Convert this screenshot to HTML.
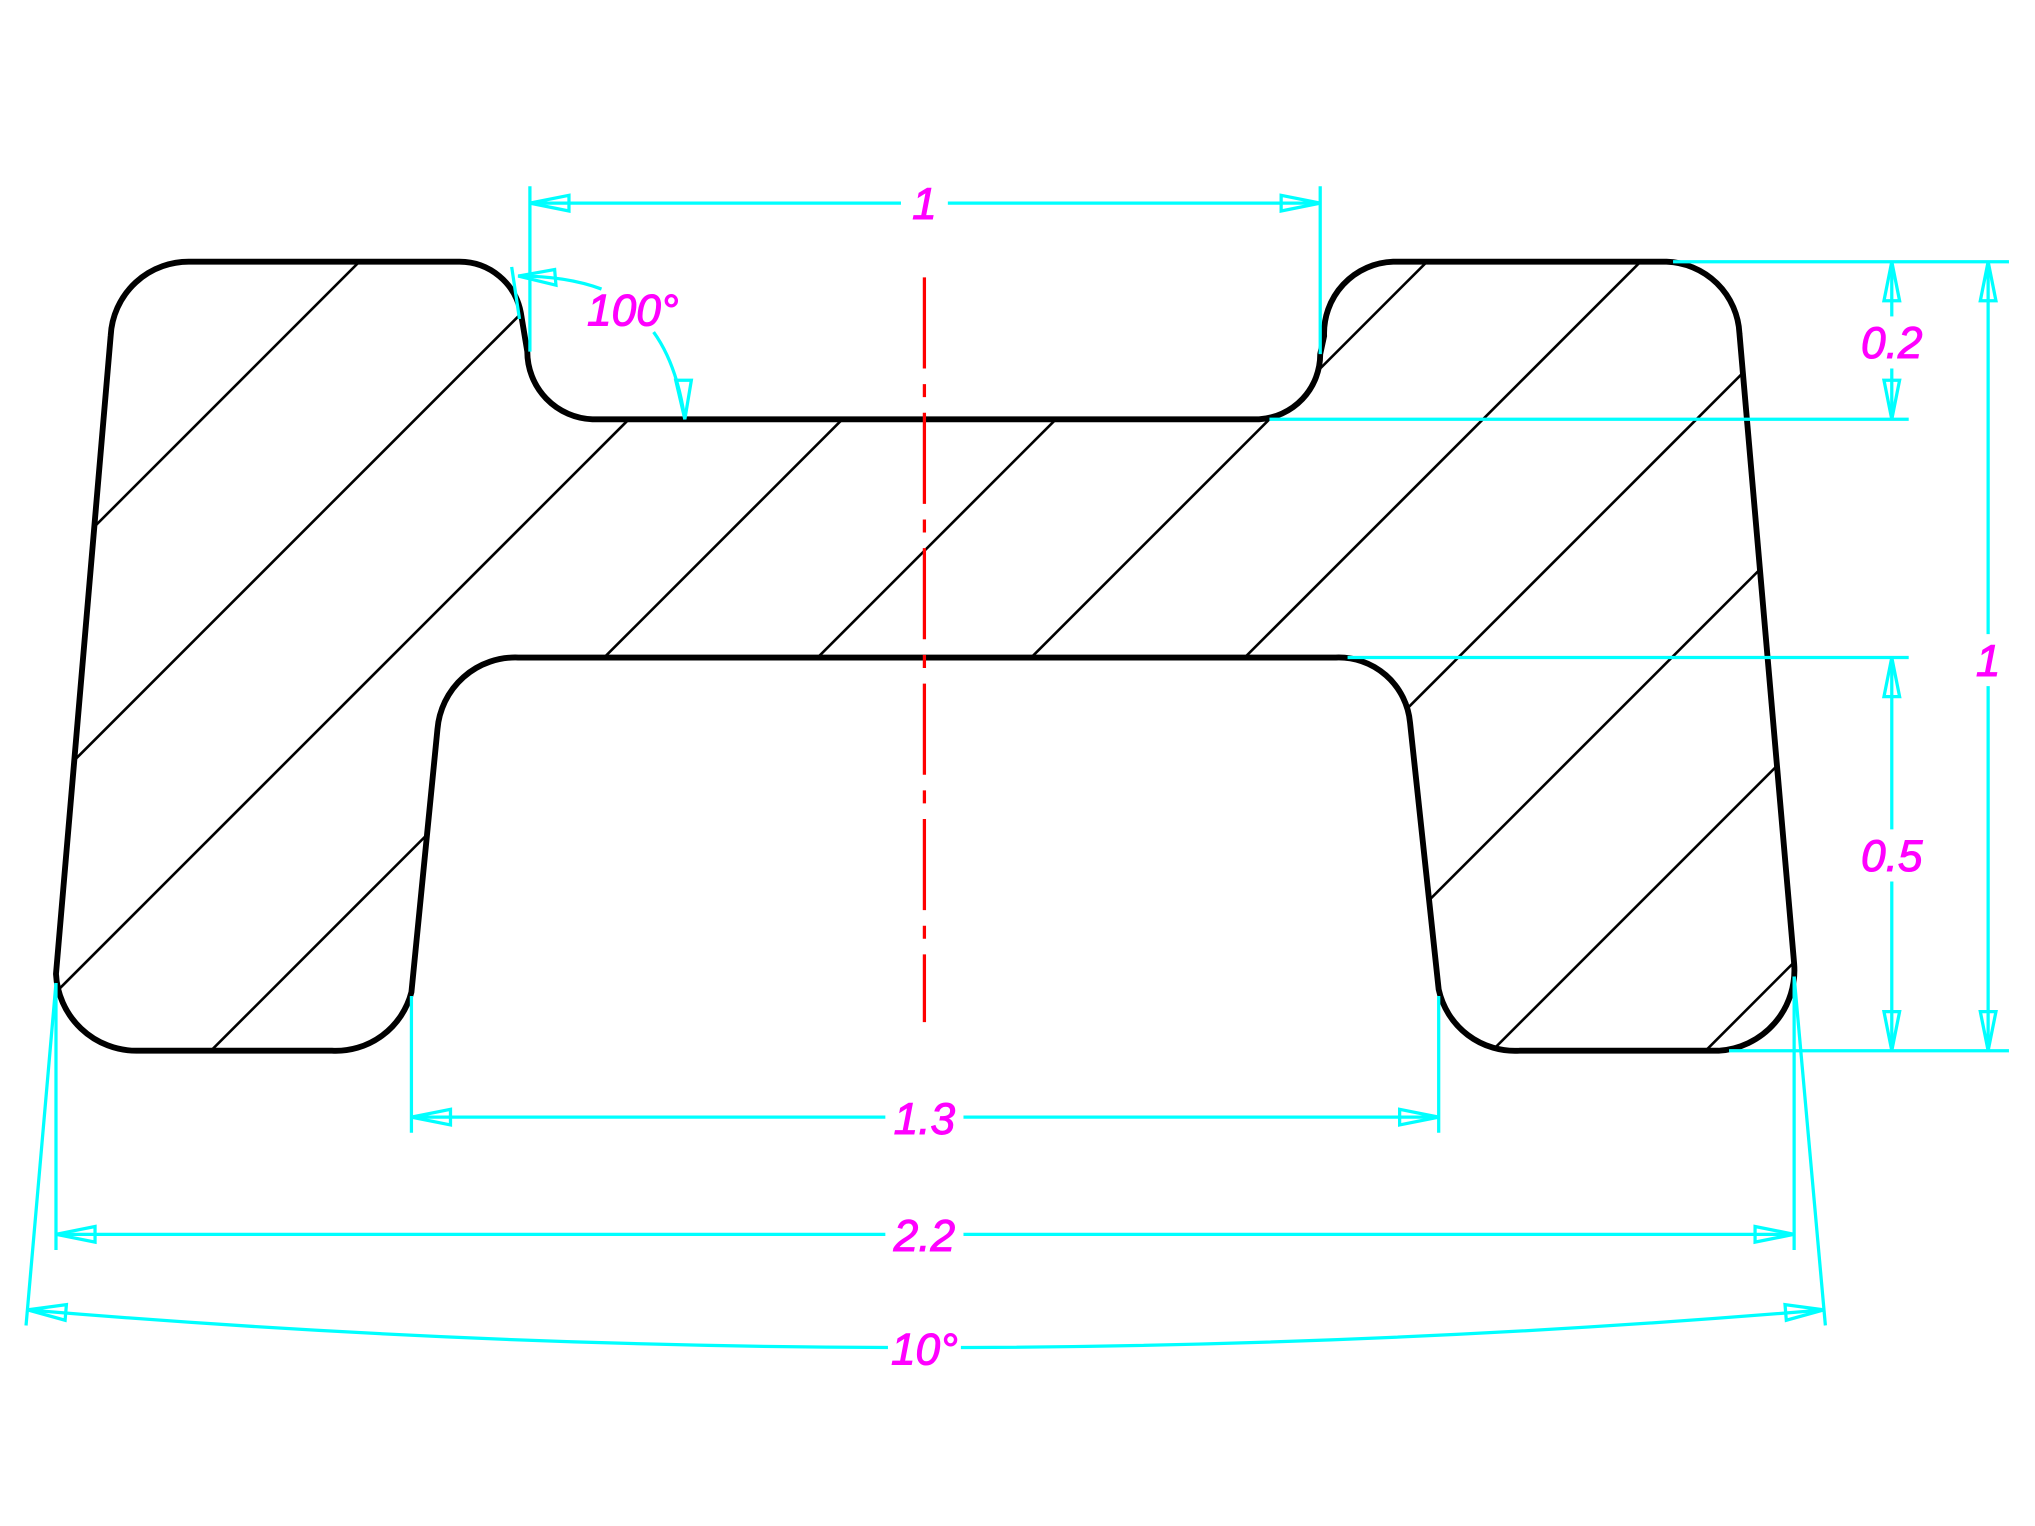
<!DOCTYPE html>
<html><head><meta charset="utf-8"><style>html,body{margin:0;padding:0;background:#fff}svg{display:block}</style></head>
<body>
<svg width="2035" height="1526" viewBox="0 0 1563 1172" xmlns="http://www.w3.org/2000/svg">
<defs>
<clipPath id="c"><path id="shape" d="M147 201 L353 201 A48 48 0 0 1 400 240 L405 270 A52 52 0 0 0 455 322 L967 322 A50 50 0 0 0 1014 272 L1017 258 A55 55 0 0 1 1070 201 L1280 201 A58 58 0 0 1 1336 256 L1378 740 A62 62 0 0 1 1320 807 L1167 807 A60 60 0 0 1 1105 760 L1083 555 A55 55 0 0 0 1026 505 L398 505 A60 60 0 0 0 336 560 L316 762 A60 60 0 0 1 255 807 L105 807 A62 62 0 0 1 43 748 L85 258 A60 60 0 0 1 147 201 Z"/></clipPath>
</defs>
<g clip-path="url(#c)" stroke="#000" stroke-width="2">
<line x1="0" y1="313" x2="313" y2="0"/>
<line x1="0" y1="477" x2="477" y2="0"/>
<line x1="0" y1="641" x2="641" y2="0"/>
<line x1="0" y1="805" x2="805" y2="0"/>
<line x1="0" y1="969" x2="969" y2="0"/>
<line x1="0" y1="1133" x2="1133" y2="0"/>
<line x1="97" y1="1200" x2="1297" y2="0"/>
<line x1="261" y1="1200" x2="1461" y2="0"/>
<line x1="425" y1="1200" x2="1625" y2="0"/>
<line x1="589" y1="1200" x2="1789" y2="0"/>
<line x1="753" y1="1200" x2="1953" y2="0"/>
<line x1="917" y1="1200" x2="2117" y2="0"/>
<line x1="1081" y1="1200" x2="2281" y2="0"/>
<line x1="1245" y1="1200" x2="2445" y2="0"/>
</g>
<use href="#shape" fill="none" stroke="#000" stroke-width="4.5"/>
<line x1="710" y1="213" x2="710" y2="785" stroke="#f00" stroke-width="2.5" stroke-dasharray="70 12 10 12"/>
<g stroke="#0ff" stroke-width="2.5" fill="none">
<line x1="407" y1="143" x2="407" y2="270"/><line x1="1014" y1="143" x2="1014" y2="272"/>
<line x1="407" y1="156" x2="1014" y2="156"/>
<polygon points="407,156 437,150 437,162"/><polygon points="1014,156 984,150 984,162"/>
<line x1="393" y1="205" x2="399" y2="245"/>
<path d="M398 212 Q435 212 462 222"/>
<polygon points="398,212 426,207 427,219"/>
<path d="M502 255 Q520 280 526 322"/>
<polygon points="526,322 519,292 531,292"/>
<line x1="1285" y1="201" x2="1543" y2="201"/>
<line x1="975" y1="322" x2="1466" y2="322"/>
<line x1="1035" y1="505" x2="1466" y2="505"/>
<line x1="1328" y1="807" x2="1543" y2="807"/>
<line x1="1453" y1="201" x2="1453" y2="243"/><line x1="1453" y1="283" x2="1453" y2="322"/>
<polygon points="1453,201 1447,231 1459,231"/><polygon points="1453,322 1447,292 1459,292"/>
<line x1="1453" y1="505" x2="1453" y2="637"/><line x1="1453" y1="677" x2="1453" y2="807"/>
<polygon points="1453,505 1447,535 1459,535"/><polygon points="1453,807 1447,777 1459,777"/>
<line x1="1527" y1="201" x2="1527" y2="487"/><line x1="1527" y1="527" x2="1527" y2="807"/>
<polygon points="1527,201 1521,231 1533,231"/><polygon points="1527,807 1521,777 1533,777"/>
<line x1="316" y1="765" x2="316" y2="870"/><line x1="1105" y1="765" x2="1105" y2="870"/>
<line x1="316" y1="858" x2="1105" y2="858"/>
<polygon points="316,858 346,852 346,864"/><polygon points="1105,858 1075,852 1075,864"/>
<line x1="43" y1="755" x2="43" y2="960"/><line x1="1378" y1="750" x2="1378" y2="960"/>
<line x1="43" y1="948" x2="1378" y2="948"/>
<polygon points="43,948 73,942 73,954"/><polygon points="1378,948 1348,942 1348,954"/>
<line x1="43" y1="755" x2="20" y2="1018"/><line x1="1378" y1="750" x2="1402" y2="1018"/>
<path d="M21 1006 Q710 1064 1401 1006"/>
<polygon points="21,1006 51,1002 50,1014"/><polygon points="1401,1006 1371,1002 1372,1014"/>
</g>
<g font-family="Liberation Sans, sans-serif" font-style="italic" font-size="34" fill="#f0f" stroke="#f0f" stroke-width="0.8" text-anchor="middle">
<rect x="692" y="138" width="36" height="36" fill="#fff" stroke="none"/><text x="710" y="168">1</text>
<text x="486" y="250">100°</text>
<rect x="1420" y="246" width="66" height="36" fill="#fff" stroke="none"/><text x="1453" y="275">0.2</text>
<rect x="1420" y="640" width="66" height="36" fill="#fff" stroke="none"/><text x="1453" y="669">0.5</text>
<text x="1527" y="519">1</text>
<rect x="680" y="840" width="60" height="36" fill="#fff" stroke="none"/><text x="710" y="871">1.3</text>
<rect x="680" y="930" width="60" height="36" fill="#fff" stroke="none"/><text x="710" y="961">2.2</text>
<rect x="682" y="1018" width="56" height="36" fill="#fff" stroke="none"/><text x="710" y="1048">10°</text>
</g>
</svg>
</body></html>
